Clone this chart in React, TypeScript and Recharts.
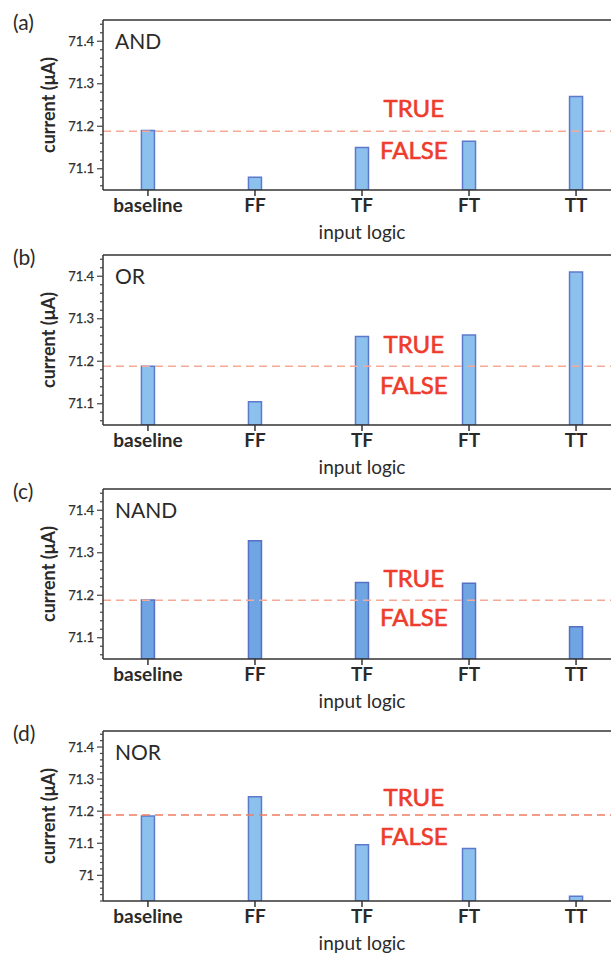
import React from "react";
import { Bar, BarChart, Label, ReferenceLine, XAxis, YAxis } from "recharts";

const categories = ["baseline", "FF", "TF", "FT", "TT"];
const andValues = [71.19, 71.08, 71.15, 71.165, 71.27];
const orValues = [71.188, 71.105, 71.258, 71.262, 71.41];
const nandValues = [71.189, 71.328, 71.23, 71.228, 71.126];
const norValues = [71.185, 71.245, 71.095, 71.084, 70.935];
const threshold = 71.188;
const upperDomain = [71.05, 71.45];
const norDomain = [70.92, 71.45];

const FONT = "Lato, 'DejaVu Sans', sans-serif";
const INK = "#2a2a2a";

// minor ticks every 0.02, labelled ones every 0.1
function minorTicks(domain: number[]) {
  const out: number[] = [];
  let v = Math.ceil(domain[0] / 0.02 - 1e-9) * 0.02;
  while (v <= domain[1] + 1e-9) {
    out.push(Math.round(v * 100) / 100);
    v += 0.02;
  }
  return out;
}

const YTick = (props: any) => {
  const { x, y, payload } = props;
  const v = payload.value;
  const major = Math.abs(v * 10 - Math.round(v * 10)) < 1e-6;
  return (
    <g>
      <line
        x1={x - (major ? 6 : 3)}
        x2={x}
        y1={y}
        y2={y}
        stroke="#444"
        strokeWidth={1.2}
      />
      {major && (
        <text
          x={x - 9}
          y={y}
          dy={4.5}
          textAnchor="end"
          fontSize={13}
          fill="#2f2f2f"
          stroke="#2f2f2f"
          strokeWidth={0.25}
          fontFamily={FONT}
        >
          {String(Math.round(v * 10) / 10)}
        </text>
      )}
    </g>
  );
};

interface PanelProps {
  letter: string;
  gate: string;
  values: number[];
  domain: number[];
  top: number;
  fill: string;
  stroke: string;
  lineColor: string;
  trueGap: number;
  falseGap: number;
}

function Panel({
  letter,
  gate,
  values,
  domain,
  top,
  fill,
  stroke,
  lineColor,
  trueGap,
  falseGap,
}: PanelProps) {
  const data = categories.map((name, i) => ({ idx: i, name, value: values[i] }));
  const mt = 10;
  return (
    <div style={{ position: "absolute", left: 0, top: top - mt, width: 640, height: 235 }}>
      <BarChart
        width={640}
        height={235}
        data={data}
        margin={{ top: mt, right: 19, bottom: 0, left: 0 }}
      >
        <XAxis
          dataKey="idx"
          type="number"
          domain={[-0.42, categories.length - 1 + 0.42]}
          ticks={categories.map((_, i) => i)}
          interval={0}
          allowDataOverflow
          tickFormatter={(i: number) => categories[i]}
          height={55}
          axisLine={{ stroke: "#333", strokeWidth: 1.5 }}
          tickLine={{ stroke: "#333", strokeWidth: 1.5 }}
          tickSize={6}
          tickMargin={3}
          tick={{ fontSize: 19, fontWeight: 700, fill: INK, fontFamily: FONT }}
        >
          <Label
            content={(p: any) => {
              const vb = p.viewBox;
              return (
                <text
                  x={vb.x + vb.width / 2}
                  y={vb.y + 49}
                  textAnchor="middle"
                  fontSize={19}
                  fill={INK}
                  fontFamily={FONT}
                >
                  input logic
                </text>
              );
            }}
          />
        </XAxis>
        <YAxis
          type="number"
          domain={domain}
          allowDataOverflow
          ticks={minorTicks(domain)}
          interval={0}
          width={103}
          tick={<YTick />}
          tickLine={false}
          tickSize={0}
          tickMargin={0}
          axisLine={{ stroke: "#333", strokeWidth: 1.5 }}
        >
          <Label
            content={(p: any) => {
              const vb = p.viewBox;
              const cy = vb.y + vb.height / 2;
              return (
                <text
                  x={48}
                  y={cy}
                  transform={`rotate(-90 48 ${cy})`}
                  textAnchor="middle"
                  dominantBaseline="central"
                  fontSize={18}
                  fontWeight={700}
                  fill={INK}
                  fontFamily={FONT}
                >
                  current (μA)
                </text>
              );
            }}
          />
        </YAxis>
        <ReferenceLine y={domain[1]} stroke="#333" strokeWidth={1.5} />
        <ReferenceLine
          y={threshold}
          stroke={lineColor}
          strokeWidth={1.5}
          strokeDasharray="8 5"
          label={(p: any) => {
            const vb = p.viewBox;
            const cx = vb.x + vb.width * 0.6;
            return (
              <g
                fontFamily={FONT}
                fontSize={24}
                fill="#ee3b2b"
                stroke="#ee3b2b"
                strokeWidth={0.6}
                textAnchor="middle"
              >
                <text x={cx} y={vb.y - trueGap}>TRUE</text>
                <text x={cx} y={vb.y + falseGap + 17}>FALSE</text>
              </g>
            );
          }}
        />
        <Bar
          dataKey="value"
          barSize={13}
          fill={fill}
          stroke={stroke}
          strokeWidth={1.5}
          isAnimationActive={false}
        />
      </BarChart>
      <div
        style={{
          position: "absolute",
          left: 13,
          top: 0,
          fontSize: 21,
          lineHeight: "24px",
          color: INK,
          fontFamily: FONT,
        }}
      >
        ({letter})
      </div>
      <div
        style={{
          position: "absolute",
          left: 115,
          top: mt + 9,
          fontSize: 21,
          lineHeight: "24px",
          color: INK,
          fontFamily: FONT,
        }}
      >
        {gate}
      </div>
    </div>
  );
}

export default function App() {
  return (
    <div
      style={{
        position: "fixed",
        left: 0,
        top: 0,
        width: 611,
        height: 958,
        overflow: "hidden",
        background: "#fff",
        fontFamily: FONT,
      }}
    >
      <Panel
        letter="a"
        gate="AND"
        values={andValues}
        domain={upperDomain}
        top={20}
        fill="#8cc1ee"
        stroke="#5d79cc"
        lineColor="#f6a995"
        trueGap={14}
        falseGap={11}
      />
      <Panel
        letter="b"
        gate="OR"
        values={orValues}
        domain={upperDomain}
        top={255}
        fill="#8cc1ee"
        stroke="#5d79cc"
        lineColor="#f6a995"
        trueGap={13}
        falseGap={11}
      />
      <Panel
        letter="c"
        gate="NAND"
        values={nandValues}
        domain={upperDomain}
        top={489}
        fill="#6fa5e2"
        stroke="#5570c4"
        lineColor="#f6a995"
        trueGap={13}
        falseGap={9}
      />
      <Panel
        letter="d"
        gate="NOR"
        values={norValues}
        domain={norDomain}
        top={731}
        fill="#8cc1ee"
        stroke="#5d79cc"
        lineColor="#ef7d63"
        trueGap={9}
        falseGap={13}
      />
    </div>
  );
}
